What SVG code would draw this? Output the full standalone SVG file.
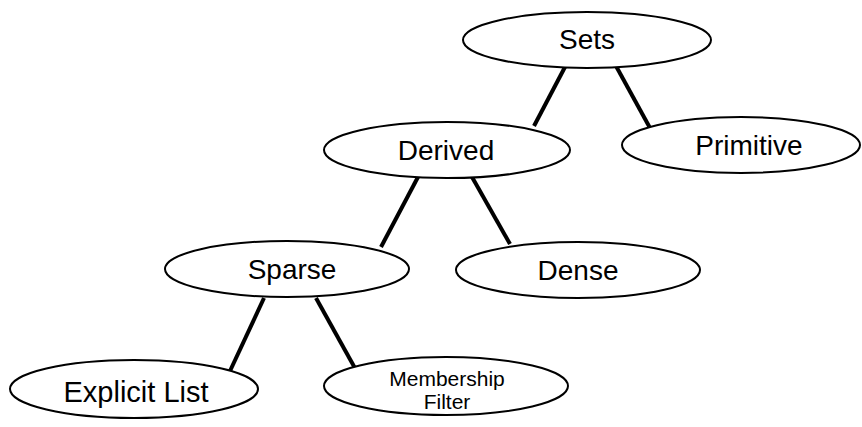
<svg xmlns="http://www.w3.org/2000/svg" width="862" height="427" viewBox="0 0 862 427">
<style>
.n ellipse{fill:#fff;stroke:#000;stroke-width:2}
.n text{font-family:"Liberation Sans",Arial,sans-serif;font-size:28px;fill:#000;text-anchor:middle;dominant-baseline:central}
#connectors line{stroke:#000;stroke-width:4;stroke-linecap:butt}
</style>
<rect width="862" height="427" fill="#fff"/>
<g id="connectors">
<line x1="565" y1="67" x2="534" y2="126"/>
<line x1="616" y1="66" x2="650" y2="128"/>
<line x1="418" y1="177" x2="381" y2="247"/>
<line x1="472" y1="177" x2="510" y2="244"/>
<line x1="264" y1="298" x2="230" y2="371"/>
<line x1="316" y1="298" x2="356" y2="370"/>
</g>
<g id="sets" class="n"><ellipse cx="587" cy="40" rx="124" ry="28"/><text x="587" y="39">Sets</text></g>
<g id="primitive" class="n"><ellipse cx="741" cy="145" rx="119" ry="28"/><text x="749" y="145">Primitive</text></g>
<g id="derived" class="n"><ellipse cx="447" cy="150" rx="123" ry="28"/><text x="446" y="150">Derived</text></g>
<g id="sparse" class="n"><ellipse cx="287" cy="269" rx="122" ry="28"/><text x="292" y="269">Sparse</text></g>
<g id="dense" class="n"><ellipse cx="578" cy="270" rx="122" ry="28"/><text x="578" y="270">Dense</text></g>
<g id="explicit-list" class="n"><ellipse cx="134" cy="389" rx="124" ry="29"/><text x="136" y="392" style="font-size:29px">Explicit List</text></g>
<g id="membership-filter" class="n"><ellipse cx="446" cy="386" rx="122" ry="29"/><text x="447" y="378" style="font-size:21px">Membership</text><text x="447" y="401" style="font-size:21px">Filter</text></g>
</svg>
